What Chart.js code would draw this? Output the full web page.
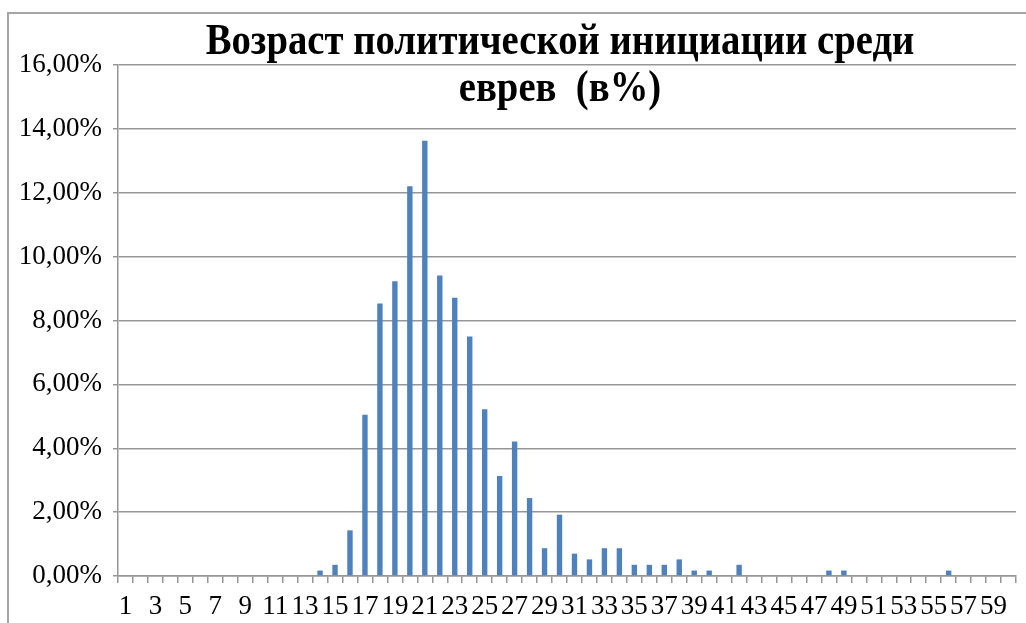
<!DOCTYPE html>
<html>
<head>
<meta charset="utf-8">
<title>Возраст политической инициации среди еврев</title>
<script src="https://cdn.jsdelivr.net/npm/chart.js@4.4.1/dist/chart.umd.min.js"></script>
<style>
	body { margin: 0; background: #fff; overflow: hidden; }
	#frame { position: absolute; left: 7px; top: 12px; width: 1030px; height: 620px; border-left: 2px solid #a6a6a6; border-top: 2px solid #a6a6a6; }
	#mycanvas { position: absolute; left: 0; top: 0; }
</style>
</head>
<body>
<div id="frame"></div>
<canvas id="mycanvas" width="1026" height="623"></canvas>
<script>
var titleLines = ["Возраст политической инициации среди", "еврев  (в%)"];

var ages = ["1","2","3","4","5","6","7","8","9","10",
	"11","12","13","14","15","16","17","18","19","20",
	"21","22","23","24","25","26","27","28","29","30",
	"31","32","33","34","35","36","37","38","39","40",
	"41","42","43","44","45","46","47","48","49","50",
	"51","52","53","54","55","56","57","58","59","60"];

// share of respondents, %
var shares = [0,0,0,0,0,0,0,0,0,0,
	0,0,0,0.17,0.35,1.43,5.05,8.53,9.23,12.2,
	13.63,9.41,8.71,7.5,5.22,3.13,4.21,2.44,0.87,1.92,
	0.7,0.52,0.87,0.87,0.35,0.35,0.35,0.52,0.17,0.17,
	0,0.35,0,0,0,0,0,0.17,0.17,0,
	0,0,0,0,0,0.17,0,0,0,0];

var yTickLabels = ["0,00%","2,00%","4,00%","6,00%","8,00%","10,00%","12,00%","14,00%","16,00%"];

var gridColor = "#969696";

// title sits over the plot, like in the excel original (font there is narrower)
var titlePlugin = {
	id: "overTitle",
	afterDraw: function(chart) {
		var ctx = chart.ctx;
		ctx.save();
		ctx.fillStyle = "#000";
		ctx.font = "bold 44px 'Liberation Serif'";
		ctx.textAlign = "center";
		ctx.textBaseline = "middle";
		ctx.translate(560, 0);
		ctx.scale(0.88, 1);
		ctx.fillText(titleLines[0], 0, 43);
		ctx.fillText(titleLines[1], 0, 90);
		ctx.restore();
	}
};

var ctx = document.getElementById("mycanvas");

var chartdata = {
	labels: ages,
	datasets: [
		{
			label: "Возраст",
			backgroundColor: "#4F81BD",
			borderWidth: 0,
			barPercentage: 0.36,
			categoryPercentage: 1,
			data: shares
		}
	]
};

var BarGraph = new Chart(ctx, {
	type: 'bar',
	data: chartdata,
	plugins: [titlePlugin],
	options: {
		responsive: false,
		animation: false,
		layout: {
			padding: { top: 65, right: 10, left: 0, bottom: 0 }
		},
		plugins: {
			legend: { display: false },
			title: { display: false },
			tooltip: { enabled: false }
		},
		scales: {
			x: {
				afterFit: function(scale) { scale.height = 47; },
				grid: {
					display: true,
					drawOnChartArea: false,
					drawTicks: true,
					tickLength: 7,
					color: gridColor,
					lineWidth: 1.5
				},
				border: { color: gridColor, width: 1.5 },
				ticks: {
					autoSkip: false,
					maxRotation: 0,
					padding: 8,
					color: "#000",
					font: { family: "'Liberation Serif'", size: 27 },
					callback: function(value, index) {
						return index % 2 === 0 ? ages[index] : "";
					}
				}
			},
			y: {
				min: 0,
				max: 16,
				afterFit: function(scale) { scale.width = 118; },
				grid: {
					color: gridColor,
					lineWidth: 1.5,
					drawTicks: true,
					tickLength: 5
				},
				border: { color: gridColor, width: 1.5 },
				ticks: {
					stepSize: 2,
					padding: 11,
					color: "#000",
					font: { family: "'Liberation Serif'", size: 27 },
					callback: function(value) {
						return yTickLabels[value / 2];
					}
				}
			}
		}
	}
});
</script>
</body>
</html>
